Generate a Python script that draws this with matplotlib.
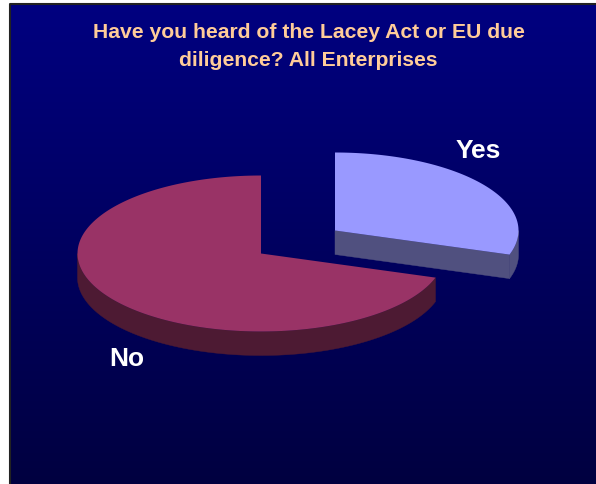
import matplotlib
matplotlib.use("Agg")
import matplotlib.pyplot as plt
import numpy as np
from matplotlib.patches import Polygon

title = "Have you heard of the Lacey Act or EU due\ndiligence? All Enterprises"
labels = ["Yes", "No"]
values = [30, 70]
top_colors = ["#9999ff", "#993366"]
side_colors = ["#50507f", "#4d1a33"]

plt.rcParams["font.family"] = ["Liberation Sans", "DejaVu Sans"]

fig = plt.figure(figsize=(5.96, 4.85), dpi=100)
ax = fig.add_axes([0, 0, 1, 1])
ax.axis("off")

# background gradient, navy to dark navy
left, top = 10, 5
grad = np.linspace(0, 1, 256).reshape(-1, 1)
rgb = np.zeros((256, 1, 3))
rgb[..., 2] = (128 - 64 * grad) / 255
ax.imshow(rgb, extent=[left, 596, 485, top], aspect="auto", zorder=0)
ax.plot([left, left, 596], [485, top, top], color="#222222", lw=1.5, zorder=1)
ax.set_xlim(0, 596)
ax.set_ylim(485, 0)

rx, ry, depth = 183.5, 78, 24
centers = [(335, 231.5), (261, 254.5)]


def rim(cx, cy, a0, a1):
    t = np.radians(np.linspace(a0, a1, 200))
    return np.column_stack([cx + rx * np.cos(t), cy - ry * np.sin(t)])


# slices run clockwise from 12 o'clock
angles = 90 - 360 * np.cumsum([0] + values) / sum(values)
for i in [1, 0]:
    cx, cy = centers[i]
    a0, a1 = angles[i + 1], angles[i]
    # outer wall, only the front half shows
    edge = rim(cx, cy, max(a0, -180), min(a1, 0))
    wall = np.vstack([edge, (edge + [0, depth])[::-1]])
    ax.add_patch(Polygon(wall, fc=side_colors[i], ec=side_colors[i], lw=0.3, zorder=2))
    if i == 0:
        # cut face towards the viewer
        end = rim(cx, cy, a0, a0)[0]
        face = [(cx, cy), tuple(end), (end[0], end[1] + depth), (cx, cy + depth)]
        ax.add_patch(Polygon(face, fc=side_colors[i], ec=side_colors[i], lw=0.3, zorder=2))
    pts = np.vstack([[(cx, cy)], rim(cx, cy, a0, a1)])
    ax.add_patch(Polygon(pts, fc=top_colors[i], ec="none", zorder=3))

ax.text(308.5, 47, title, color="#ffcc99", fontsize=15.2, fontweight="bold",
        ha="center", va="center", linespacing=1.6, zorder=4)
ax.text(478, 151, labels[0], color="white", fontsize=19, fontweight="bold",
        ha="center", va="center", zorder=4)
ax.text(127, 359, labels[1], color="white", fontsize=19, fontweight="bold",
        ha="center", va="center", zorder=4)

fig.savefig("out.png", dpi=100, facecolor="white")
